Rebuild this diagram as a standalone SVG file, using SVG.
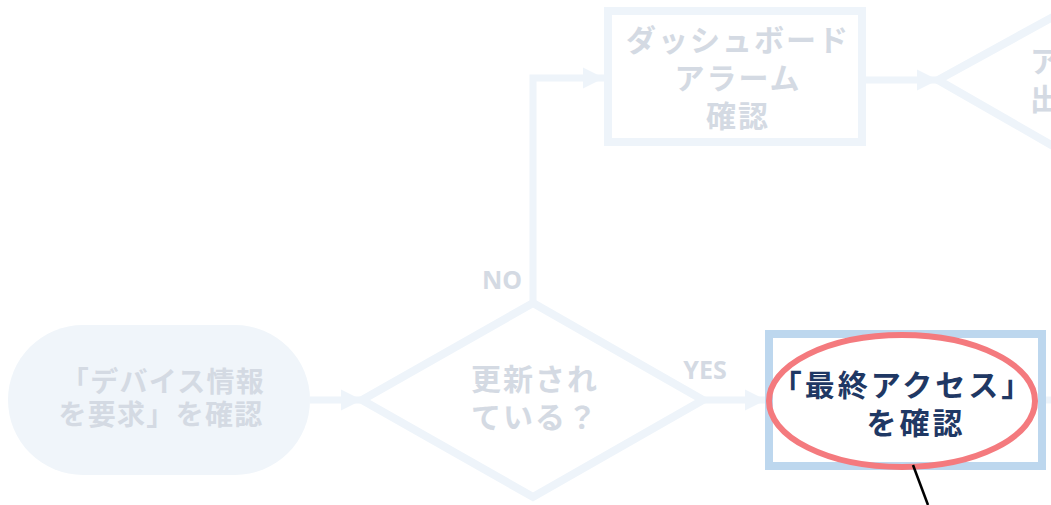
<svg xmlns="http://www.w3.org/2000/svg" width="1051" height="505" viewBox="0 0 1051 505">
<defs>
<style>
.t{font-family:"Noto Sans CJK JP","Noto Sans",sans-serif;font-weight:bold;text-anchor:middle}
.faint{fill:#d4dae3}
.edge{fill:none;stroke:#eef4fa;stroke-width:7}
.shape{fill:none;stroke:#eef4fa;stroke-width:8}
.lbl{font-family:"Noto Sans","Liberation Sans",sans-serif;font-weight:bold;font-size:25px;fill:#d4dae3;text-anchor:middle}
</style>
<marker id="ah" viewBox="0 0 10 10" refX="10" refY="5" markerWidth="3" markerHeight="3.2" orient="auto" markerUnits="strokeWidth">
<path d="M0,0 L10,5 L0,10 z" fill="#eef4fa"/>
</marker>
</defs>
<rect width="1051" height="505" fill="#ffffff"/>
<g id="connectors">
<path class="edge" d="M310,400 L362,400" marker-end="url(#ah)"/>
<path class="edge" d="M703,400 L766,400" marker-end="url(#ah)"/>
<path class="edge" d="M533,303 L533,78 L604,78" marker-end="url(#ah)"/>
<path class="edge" d="M866,80 L938,80" marker-end="url(#ah)"/>
<path class="edge" d="M1046,400 L1051,400"/>
<text class="lbl" x="502" y="289">NO</text>
<text class="lbl" x="705" y="379">YES</text>
</g>
<g id="start">
<rect x="8" y="325" width="302" height="150" rx="75" fill="#f0f5fa"/>
<text class="t faint" font-size="28" letter-spacing="1.3" x="163" y="392">「デバイス情報</text>
<text class="t faint" font-size="28" letter-spacing="1.3" x="161" y="425">を要求」を確認</text>
</g>
<g id="decision">
<polygon class="shape" points="533,303 703,400 533,497 362,400"/>
<text class="t faint" font-size="30" letter-spacing="2" x="535" y="390">更新され</text>
<text class="t faint" font-size="30" letter-spacing="2" x="535" y="428">ている？</text>
</g>
<g id="dashboard">
<rect class="shape" x="608" y="11" width="254" height="131"/>
<text class="t faint" font-size="30" letter-spacing="2" x="738" y="51">ダッシュボード</text>
<text class="t faint" font-size="30" letter-spacing="2" x="738" y="89">アラーム</text>
<text class="t faint" font-size="30" letter-spacing="2" x="738" y="127">確認</text>
</g>
<g id="decision2">
<polyline class="shape" points="1060,13 938,80 1060,150"/>
<text class="t faint" font-size="30" x="1045" y="72">ア</text>
<text class="t faint" font-size="30" x="1045" y="110">出</text>
</g>
<g id="last-access">
<rect x="769" y="334" width="273" height="132" fill="#ffffff" stroke="#bdd7ee" stroke-width="8"/>
<text class="t" font-size="30" letter-spacing="3" fill="#1f3864" x="903" y="396">「最終アクセス」</text>
<text class="t" font-size="30" letter-spacing="3" fill="#1f3864" x="916" y="434">を確認</text>
</g>
<g id="highlight">
<ellipse cx="902" cy="401" rx="133" ry="66" fill="none" stroke="#f47a7e" stroke-width="6"/>
<line x1="913" y1="465" x2="928" y2="505" stroke="#000000" stroke-width="2.5"/>
</g>
</svg>
